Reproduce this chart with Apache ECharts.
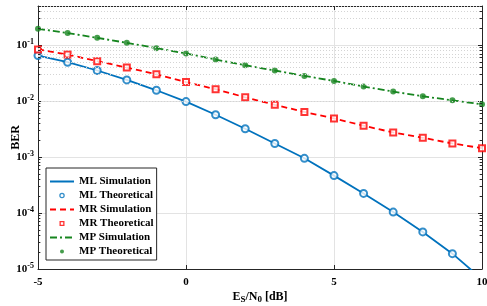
<!DOCTYPE html>
<html lang="en">
<head>
    <meta charset="UTF-8">
    <title>BER</title>
    <script src="https://cdn.jsdelivr.net/npm/echarts@6/dist/echarts.min.js"></script>
</head>
<body style="margin:0">

<div id="main" style="width: 487px;height:306px;"></div>
<script type="text/javascript">

    // Es/N0 in dB
    var snr = [-5, -4, -3, -2, -1, 0, 1, 2, 3, 4, 5, 6, 7, 8, 9, 10];

    // BER
    var mlBer = [0.065, 0.0495, 0.0352, 0.0239, 0.0156, 0.0098, 0.0057, 0.0032, 0.00175, 0.00095,
        0.000466, 0.000224, 0.000104, 0.000046, 0.0000188, 0.0000066];
    var mrBer = [0.0837, 0.068, 0.0516, 0.0398, 0.0301, 0.0219, 0.0163, 0.0117, 0.0086, 0.0064,
        0.0049, 0.00363, 0.00275, 0.00221, 0.00175, 0.00144];
    var mpBer = [0.196, 0.164, 0.135, 0.11, 0.0883, 0.071, 0.0553, 0.0437, 0.0352, 0.0282,
        0.0229, 0.0182, 0.0148, 0.0122, 0.0103, 0.00875];

    var xTicks = [-5, 0, 5, 10];
    var yTickExps = [-5, -4, -3, -2, -1];

    var font = 'Liberation Serif';
    var axisColor = '#262626';
    var blue = '#0072BD', red = '#FF0000', green = '#16851f';

    function pairs(ys) {
        return snr.map(function (x, i) { return [x, ys[i]]; });
    }

    // minor grid values 2..9 x 10^k
    var minorVals = [];
    yTickExps.forEach(function (e) {
        for (var m = 2; m <= 9; m++) {
            var v = m * Math.pow(10, e);
            if (v <= 0.5) minorVals.push(v);
        }
    });
    var minorLines = minorVals.map(function (v) { return {yAxis: v}; });
    // short minor ticks on left and right edges
    var minorTicks = [];
    minorVals.forEach(function (v) {
        minorTicks.push([{coord: [-5, v]}, {coord: [-4.92, v]}]);
        minorTicks.push([{coord: [10, v]}, {coord: [9.92, v]}]);
    });

    // legend markers, padded to a 14x14 box so they come out small
    var pad = ' M0,0h0.01v0.01h-0.01Z M14,14h-0.01v-0.01h0.01Z';
    var openCircle = 'path://M7,1.5A5.5,5.5 0 1,1 7,12.5A5.5,5.5 0 1,1 7,1.5Z M7,4A3,3 0 1,0 7,10A3,3 0 1,0 7,4Z' + pad;
    var openSquare = 'path://M2,2H12V12H2Z M4.6,4.6V9.4H9.4V4.6Z' + pad;
    var dot = 'path://M7,3A4,4 0 1,1 7,11A4,4 0 1,1 7,3Z' + pad;

    var hideSym = {color: 'transparent', borderColor: 'transparent', borderWidth: 0};

    var option = {
        animation: false,
        grid: {left: 38, right: 5, top: 6, bottom: 37, outerBoundsMode: 'none', containLabel: false},
        legend: {
            orient: 'vertical',
            left: 46,
            top: 168,
            padding: [7, 3, 2, 3],
            itemWidth: 24,
            itemHeight: 7,
            itemGap: 1,
            backgroundColor: '#fff',
            borderColor: axisColor,
            borderWidth: 1,
            borderRadius: 0,
            textStyle: {fontFamily: font, fontWeight: 'bold', fontSize: 11, color: '#000', lineHeight: 13},
            data: [
                {name: 'ML Simulation', itemStyle: hideSym},
                {name: 'ML Theoretical', icon: openCircle, itemStyle: {color: blue, borderWidth: 0}},
                {name: 'MR Simulation', itemStyle: hideSym},
                {name: 'MR Theoretical', icon: openSquare, itemStyle: {color: red, borderWidth: 0}},
                {name: 'MP Simulation', itemStyle: hideSym},
                {name: 'MP Theoretical', icon: dot, itemStyle: {color: green, borderWidth: 0}}
            ]
        },
        xAxis: [{
            type: 'value',
            min: -5,
            max: 10,
            interval: 5,
            name: '{b|E}{sub|S}{b|/N}{sub|0}{b| [dB]}',
            nameLocation: 'middle',
            nameGap: 20,
            nameMoveOverlap: false,
            nameTextStyle: {
                rich: {
                    b: {fontFamily: font, fontWeight: 'bold', fontSize: 12, color: '#000'},
                    sub: {fontFamily: font, fontWeight: 'bold', fontSize: 9, color: '#000', padding: [6, 0, 0, 0]}
                }
            },
            axisLine: {show: true, onZero: false, lineStyle: {color: axisColor}},
            axisTick: {inside: true, length: 4, lineStyle: {color: axisColor}},
            axisLabel: {
                fontFamily: font, fontWeight: 'bold', fontSize: 11, color: '#000', margin: 8,
                formatter: function (v) { return xTicks.indexOf(v) >= 0 ? String(v) : ''; }
            },
            splitLine: {show: true, lineStyle: {color: '#e3e3e3'}}
        }, {
            type: 'value',
            position: 'top',
            min: -5,
            max: 10,
            interval: 5,
            axisLine: {show: true, onZero: false, lineStyle: {color: axisColor}},
            axisTick: {inside: true, length: 4, lineStyle: {color: axisColor}},
            axisLabel: {show: false},
            splitLine: {show: false}
        }],
        yAxis: [{
            type: 'log',
            min: 1e-5,
            max: 0.5,
            name: 'BER',
            nameLocation: 'middle',
            nameGap: 16,
            nameMoveOverlap: false,
            nameTextStyle: {fontFamily: font, fontWeight: 'bold', fontSize: 12, color: '#000'},
            axisLine: {show: true, onZero: false, lineStyle: {color: axisColor}},
            axisTick: {inside: true, length: 4, lineStyle: {color: axisColor}},
            axisLabel: {
                showMaxLabel: false,
                margin: 4,
                formatter: function (v) {
                    var e = Math.round(Math.log10(v));
                    if (yTickExps.indexOf(e) < 0 || Math.abs(Math.log10(v) - e) > 1e-6) return '';
                    return '{b|10}{s|' + e + '}';
                },
                rich: {
                    b: {fontFamily: font, fontWeight: 'bold', fontSize: 11, color: '#000'},
                    s: {fontFamily: font, fontWeight: 'bold', fontSize: 8, color: '#000', padding: [0, 0, 7, 0]}
                }
            },
            splitLine: {show: true, lineStyle: {color: '#e3e3e3'}}
        }, {
            type: 'log',
            position: 'right',
            min: 1e-5,
            max: 0.5,
            axisLine: {show: true, onZero: false, lineStyle: {color: axisColor}},
            axisTick: {inside: true, length: 4, lineStyle: {color: axisColor}},
            axisLabel: {show: false},
            splitLine: {show: false}
        }],
        series: [{
            name: 'ML Simulation',
            type: 'line',
            data: pairs(mlBer),
            symbol: 'none',
            lineStyle: {color: blue, width: 1.8},
            itemStyle: {color: blue},
            markLine: {
                silent: true,
                symbol: 'none',
                label: {show: false},
                lineStyle: {color: '#d4d4d4', type: [1, 2], width: 1},
                data: minorLines
            },
            z: 3
        }, {
            name: 'ML Theoretical',
            type: 'scatter',
            data: pairs(mlBer),
            symbol: 'emptyCircle',
            symbolSize: 7,
            itemStyle: {color: blue, borderColor: blue, borderWidth: 1.6},
            markLine: {
                silent: true,
                symbol: 'none',
                label: {show: false},
                lineStyle: {color: axisColor, type: 'solid', width: 1},
                data: minorTicks
            },
            z: 4
        }, {
            name: 'MR Simulation',
            type: 'line',
            data: pairs(mrBer),
            symbol: 'none',
            lineStyle: {color: red, width: 1.8, type: [6, 4]},
            itemStyle: {color: red},
            z: 3
        }, {
            name: 'MR Theoretical',
            type: 'scatter',
            data: pairs(mrBer),
            symbol: 'emptyRect',
            symbolSize: 6,
            itemStyle: {color: red, borderColor: red, borderWidth: 1.6},
            z: 4
        }, {
            name: 'MP Simulation',
            type: 'line',
            data: pairs(mpBer),
            symbol: 'none',
            lineStyle: {color: green, width: 1.8, type: [7, 3, 2, 3]},
            itemStyle: {color: green},
            z: 3
        }, {
            name: 'MP Theoretical',
            type: 'scatter',
            data: pairs(mpBer),
            symbol: 'circle',
            symbolSize: 6,
            itemStyle: {color: green},
            z: 4
        }]
    };

    var myChart = echarts.init(document.getElementById('main'));
    myChart.setOption(option);

</script>

</body>
</html>
